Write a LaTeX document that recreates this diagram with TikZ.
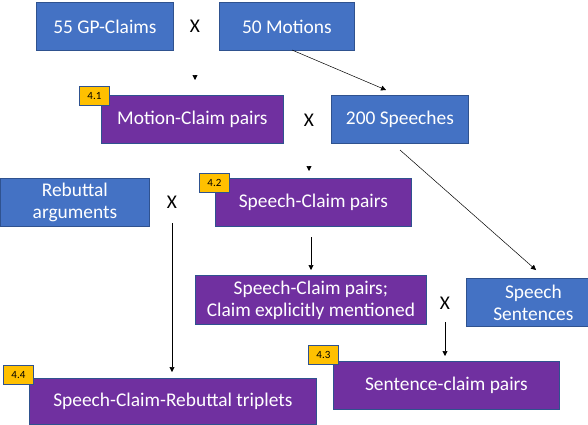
\documentclass[tikz,border=0pt]{standalone}
\usepackage{fontspec}
\setmainfont{Carlito}
\usetikzlibrary{arrows.meta}
\definecolor{offblue}{HTML}{4472C4}
\definecolor{offborder}{HTML}{2F528F}
\definecolor{offpurple}{HTML}{7030A0}
\definecolor{offgold}{HTML}{FFC000}
\tikzset{
  boxbase/.style={draw=offborder, line width=0.8pt, text=white, anchor=north west, inner sep=0pt,
    font=\fontsize{19.4}{22}\selectfont, align=center},
  bluebox/.style={boxbase, fill=offblue},
  purplebox/.style={boxbase, fill=offpurple},
  badge/.style={draw=offborder, line width=0.8pt, fill=offgold, anchor=north west, inner sep=0pt,
    minimum width=30pt, minimum height=19pt, font=\fontsize{11}{12}\selectfont},
  times/.style={font=\fontsize{19.4}{20}\selectfont},
  arr/.style={line width=0.6pt, -{Triangle[length=5pt,width=5pt]}},
}
\begin{document}
\begin{tikzpicture}[x=1pt,y=-1pt]
\useasboundingbox (0,0) rectangle (588,424);
\begin{scope}
\clip (0,0) rectangle (588,424);
% top row
\node[bluebox, minimum width=137pt, minimum height=48pt] (gp) at (36,2) {55 GP-Claims};
\node[times] (x1) at (195,26) {X};
\node[bluebox, minimum width=135pt, minimum height=48pt] (mot) at (219,2) {50 Motions};
% second row
\coordinate (a1s) at (195,75);
\coordinate (a1e) at (195,80);
\draw[arr] (a1s) -- (a1e);
\node[purplebox, minimum width=182pt, minimum height=48pt] (mc) at (101,95) {Motion-Claim pairs};
\node[badge] (b41) at (79,86) {4.1};
\node[times] (x2) at (309,120) {X};
\node[bluebox, minimum width=137pt, minimum height=48pt] (sp) at (331,95) {200 Speeches};
\coordinate (msrc) at (292,50);
\coordinate (mdst) at (386,90);
\draw[arr, line width=0.5pt] (msrc) -- (mdst);
% third row
\coordinate (a2s) at (309,166);
\coordinate (a2e) at (309,171);
\draw[arr] (a2s) -- (a2e);
\node[bluebox, minimum width=149pt, minimum height=48pt] (reb) at (0,178) {Rebuttal\\arguments};
\node[times] (x3) at (172,202) {X};
\node[purplebox, minimum width=196pt, minimum height=48pt] (sc) at (215,178) {Speech-Claim pairs};
\node[badge] (b42) at (199,173) {4.2};
% fourth row
\node[purplebox, minimum width=231pt, minimum height=49pt] (sce) at (195,275) {Speech-Claim pairs;\\Claim explicitly mentioned};
\node[bluebox, minimum width=134pt, minimum height=48pt] (ss) at (466,278) {Speech\\Sentences};
\node[times] (x4) at (445,303) {X};
\coordinate (ssrc) at (400,150);
\coordinate (sdst) at (536,270);
\draw[arr, line width=0.5pt] (ssrc) -- (sdst);
\coordinate (a3s) at (311,237);
\coordinate (a3e) at (311,270);
\draw[arr] (a3s) -- (a3e);
% bottom row
\node[purplebox, minimum width=226pt, minimum height=48pt] (scp) at (333,361) {Sentence-claim pairs};
\node[badge] (b43) at (308,345) {4.3};
\coordinate (a4s) at (445,322);
\coordinate (a4e) at (445,356);
\draw[arr] (a4s) -- (a4e);
\node[purplebox, minimum width=287pt, minimum height=46pt] (trip) at (29,378) {Speech-Claim-Rebuttal triplets};
\node[badge] (b44) at (3,365) {4.4};
\coordinate (a5s) at (172,223);
\coordinate (a5e) at (172,372);
\draw[arr] (a5s) -- (a5e);
\end{scope}
\end{tikzpicture}
\end{document}
